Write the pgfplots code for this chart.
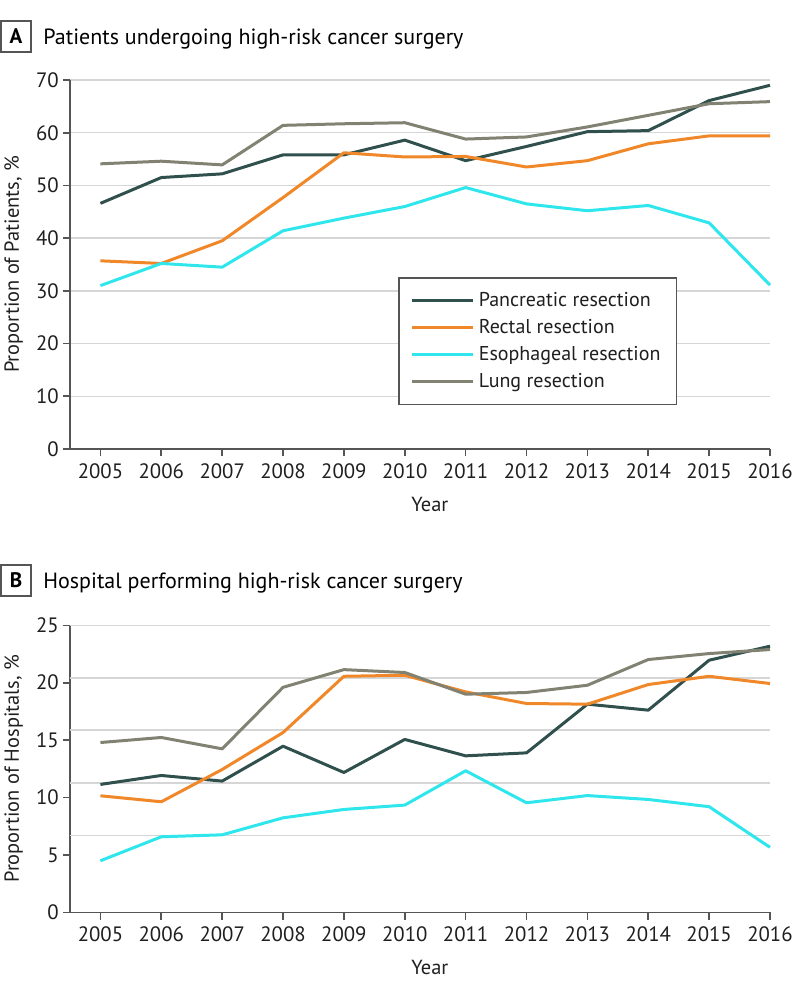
\documentclass[border=0pt]{standalone}
\usepackage{fontspec}
\setmainfont{PT Sans}
\usepackage{pgfplots}
\pgfplotsset{compat=1.18}
\definecolor{cPan}{HTML}{2F504C}
\definecolor{cRec}{HTML}{F0882A}
\definecolor{cEso}{HTML}{2EE6EC}
\definecolor{cLung}{HTML}{828273}
\definecolor{cAxis}{HTML}{555555}
\definecolor{cGrid}{HTML}{D6D6D6}
\pgfplotsset{
  jama/.style={
    scale only axis, width=350pt,
    xmin=2004.5, xmax=2016,
    xtick={2005,2006,...,2016},
    axis x line*=bottom, axis y line*=left,
    axis line style={cAxis, line width=0.8pt, -},
    tick style={cAxis, line width=0.8pt},
    tick align=outside, major tick length=3.6pt,
    ymin=0,
    /pgf/number format/assume math mode=true,
    /pgf/number format/1000 sep={},
    tick label style={font=\fontsize{10.4}{12}\selectfont, text=black!88},
    yticklabel style={xshift=1.5pt},
    label style={font=\fontsize{10.2}{12}\selectfont, text=black!88, inner sep=0pt},
    grid style={cGrid, line width=0.7pt},
    every axis plot/.append style={line width=1.5pt, line join=round},
    clip=false,
  }
}
\begin{document}
\begin{tikzpicture}
\useasboundingbox (0,0) rectangle (399pt,-499pt);
% panel A heading
\draw[cAxis, line width=0.8pt] (0.5pt,-10.5pt) rectangle (15.5pt,-26pt);
\node[font=\bfseries\fontsize{10.5}{12}\selectfont, inner sep=0pt] at (8pt,-18.25pt) {A};
\node[anchor=base west, inner sep=0pt, font=\fontsize{11}{13}\selectfont] at (21.5pt,-22pt) {Patients undergoing high-risk cancer surgery};
% panel B heading
\draw[cAxis, line width=0.8pt] (0.5pt,-282.5pt) rectangle (15.5pt,-298pt);
\node[font=\bfseries\fontsize{10.5}{12}\selectfont, inner sep=0pt] at (8pt,-290.25pt) {B};
\node[anchor=base west, inner sep=0pt, font=\fontsize{11}{13}\selectfont] at (21.5pt,-294pt) {Hospital performing high-risk cancer surgery};

\begin{axis}[jama,
  at={(35pt,-224.5pt)}, anchor=south west, height=184.5pt,
  ymax=70, ytick={0,10,...,70}, ymajorgrids,
  xlabel={Year}, ylabel={Proportion of Patients, \%},
  xlabel style={at={(axis description cs:0.514,-0.130)}, anchor=north},
  ylabel style={at={(axis description cs:-0.0943,0.5)}, anchor=north},
  legend style={at={(axis description cs:0.4686,0.466)}, anchor=north west,
    draw=cAxis, line width=0.8pt, fill=white,
    font=\fontsize{10}{12}\selectfont, text=black!88,
    inner xsep=6pt, inner ysep=5pt, row sep=1pt,
    cells={anchor=west}},
  legend image code/.code={\draw[#1, line width=1.5pt] (0pt,0pt) -- (30.5pt,0pt);},
]
\addplot[cPan] coordinates {(2005,46.6) (2006,51.5) (2007,52.2) (2008,55.8) (2009,55.8) (2010,58.6) (2011,54.7) (2012,57.4) (2013,60.2) (2014,60.4) (2015,66.1) (2016,69.0)};
\addlegendentry{Pancreatic resection}
\addplot[cRec] coordinates {(2005,35.7) (2006,35.2) (2007,39.5) (2008,47.7) (2009,56.2) (2010,55.4) (2011,55.5) (2012,53.5) (2013,54.7) (2014,57.9) (2015,59.4) (2016,59.4)};
\addlegendentry{Rectal resection}
\addplot[cEso] coordinates {(2005,31.0) (2006,35.2) (2007,34.5) (2008,41.4) (2009,43.8) (2010,46.0) (2011,49.6) (2012,46.5) (2013,45.2) (2014,46.2) (2015,42.9) (2016,31.1)};
\addlegendentry{Esophageal resection}
\addplot[cLung] coordinates {(2005,54.1) (2006,54.6) (2007,53.9) (2008,61.4) (2009,61.7) (2010,61.9) (2011,58.8) (2012,59.2) (2013,61.1) (2014,63.3) (2015,65.5) (2016,65.9)};
\addlegendentry{Lung resection}
\end{axis}

\begin{axis}[jama,
  at={(35pt,-456.15pt)}, anchor=south west, height=143.5pt,
  ymax=25, ytick={0,5,...,25},
  extra y ticks={6.67,11.28,15.87,20.42,25}, extra y tick labels={},
  extra y tick style={grid=major, major tick length=0pt},
  xlabel={Year}, ylabel={Proportion of Hospitals, \%},
  xlabel style={at={(axis description cs:0.514,-0.1672)}, anchor=north},
  ylabel style={at={(axis description cs:-0.0943,0.5)}, anchor=north},
]
\addplot[cPan] coordinates {(2005,11.14) (2006,11.92) (2007,11.43) (2008,14.47) (2009,12.18) (2010,15.06) (2011,13.63) (2012,13.89) (2013,18.13) (2014,17.61) (2015,21.96) (2016,23.18)};
\addplot[cRec] coordinates {(2005,10.15) (2006,9.63) (2007,12.44) (2008,15.66) (2009,20.56) (2010,20.65) (2011,19.2) (2012,18.19) (2013,18.13) (2014,19.84) (2015,20.56) (2016,19.93)};
\addplot[cEso] coordinates {(2005,4.49) (2006,6.58) (2007,6.75) (2008,8.23) (2009,8.96) (2010,9.34) (2011,12.33) (2012,9.54) (2013,10.17) (2014,9.83) (2015,9.2) (2016,5.66)};
\addplot[cLung] coordinates {(2005,14.79) (2006,15.23) (2007,14.24) (2008,19.6) (2009,21.14) (2010,20.89) (2011,19.0) (2012,19.15) (2013,19.78) (2014,22.02) (2015,22.54) (2016,22.89)};
\end{axis}
\end{tikzpicture}
\end{document}
